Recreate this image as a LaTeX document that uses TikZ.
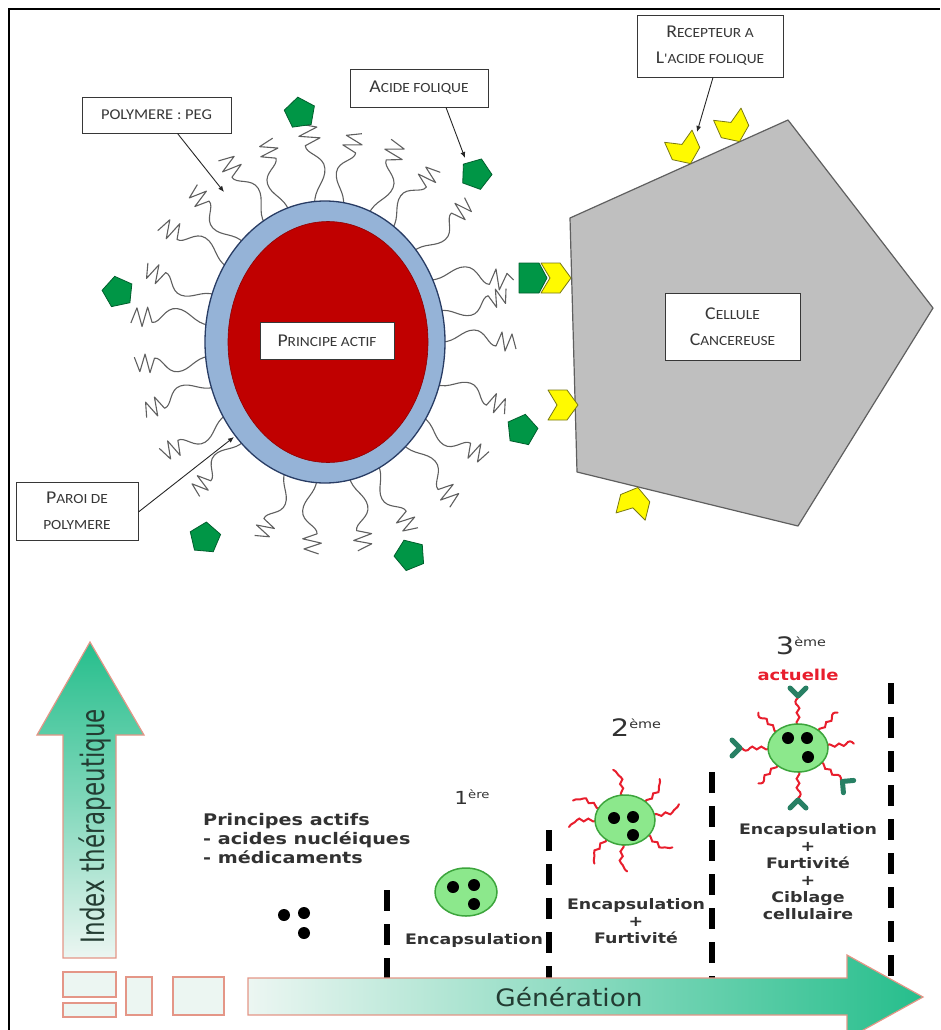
\documentclass[tikz,border=0pt]{standalone}
\usepackage{graphicx}
\usepackage{fontspec}
\setmainfont{DejaVu Sans}
\newfontfamily\labelfont{Carlito}[FakeStretch=1.1]
\newfontfamily\genfont{DejaVu Sans}[FakeStretch=1.2]
\newfontfamily\axisfont{DejaVu Sans}[FakeStretch=1.1]
\usetikzlibrary{arrows.meta,shapes.geometric,calc}

% small-caps look: larger initial, smaller capitals
\newcommand\capsc[2]{{\fontsize{18}{20}\selectfont #1}{\fontsize{14}{16}\selectfont #2}}

\definecolor{cellgray}{RGB}{191,191,191}
\definecolor{celledge}{RGB}{95,95,95}
\definecolor{shellblue}{RGB}{149,179,215}
\definecolor{shelledge}{RGB}{40,60,100}
\definecolor{corered}{RGB}{192,0,0}
\definecolor{folgreen}{RGB}{0,150,70}
\definecolor{folgreenedge}{RGB}{0,95,45}
\definecolor{recyellow}{RGB}{255,250,0}
\definecolor{recedge}{RGB}{120,120,20}
\definecolor{peggray}{RGB}{95,95,95}
\definecolor{labelink}{RGB}{55,55,55}
\definecolor{arrowgreen}{RGB}{38,190,140}
\definecolor{arrowpale}{RGB}{236,246,242}
\definecolor{salmon}{RGB}{228,150,135}
\definecolor{npgreen}{RGB}{140,232,140}
\definecolor{npedge}{RGB}{60,165,60}
\definecolor{pegred}{RGB}{232,30,45}
\definecolor{abteal}{RGB}{40,128,100}
\definecolor{textdark}{RGB}{50,50,50}
\definecolor{idxtext}{RGB}{35,60,50}

\begin{document}
\begin{tikzpicture}[x=1pt,y=-1pt,
  peg/.style={draw=peggray, line width=1.1pt, line join=round},
  lbl/.style={draw=labelink, fill=white, line width=0.9pt, inner sep=1pt,
    align=center, text=labelink, font=\labelfont\fontsize{14}{26}\selectfont},
  leader/.style={draw=black!85, line width=0.9pt, -{Latex[length=6pt,width=5pt]}},
  rec/.style={fill=recyellow, draw=recedge, line width=0.8pt, line join=round},
  folate/.style={regular polygon, regular polygon sides=5, fill=folgreen,
    draw=folgreenedge, line width=0.8pt, minimum size=32pt, inner sep=0pt},
  smallbox/.style={draw=salmon, fill=arrowpale, line width=1.2pt, inner sep=0pt},
  sep/.style={line width=5.5pt, dash pattern=on 21pt off 13pt},
  np/.style={ellipse, fill=npgreen, draw=npedge, line width=1.5pt, inner sep=0pt},
  redpeg/.style={draw=pegred, line width=2pt, line cap=round},
  ab/.style={draw=abteal, line width=5pt, line cap=round, line join=round},
  gentext/.style={font=\genfont\bfseries\fontsize{14.5}{17}\selectfont, text=textdark, align=center, inner sep=0pt},
  ordinal/.style={font=\genfont, text=textdark, inner sep=0pt},
]
\useasboundingbox (0,0) rectangle (940,1030);
\clip (0,0) rectangle (940,1030);

% frame
\draw[line width=2.5pt] (9,1030) -- (9,9) -- (940,9);

% ---------------- cancer cell ----------------
\coordinate (c1) at (570,218);
\coordinate (c2) at (788,120);
\coordinate (c3) at (933,308);
\coordinate (c4) at (798,526);
\coordinate (c5) at (577,472);
\draw[fill=cellgray, draw=celledge, line width=1.2pt, line join=round]
  (c1) -- (c2) -- (c3) -- (c4) -- (c5) -- cycle;

% ---------------- PEG chains ----------------
\foreach \t/\f/\s in {0/1/1.0, 13/-1/0.95, 41/-1/1.0, 55/1/1.0, 68/-1/1.05,
    81/1/1.0, 95/-1/1.1, 108/1/1.0, 121/-1/1.05, 134/1/1.0, 147/-1/1.05,
    160/1/1.0, 173/-1/1.05, 186/1/1.0, 199/-1/1.0, 212/1/1.0, 226/-1/0.95,
    250/1/0.95, 266/-1/1.0, 282/1/1.0, 297/-1/1.0, 312/1/1.05, 327/-1/1.0,
    342/1/1.0}
{
  \draw[peg, shift={({325+117*cos(\t)},{342-138*sin(\t)})}, rotate=\t, yscale=\f, scale=\s]
    (0,0) .. controls (14,0) and (20,-12) .. (32,-12)
          .. controls (44,-12) and (46,4) .. (54,4)
          -- (60,-10) -- (63,9) -- (70,-8) -- (74,7);
}
% chain carrying the bound ligand
\draw[peg, shift={(430,280)}, scale=1.1]
  (0,0) .. controls (14,0) and (20,-12) .. (32,-12)
        .. controls (44,-12) and (46,4) .. (54,4)
        -- (60,-10) -- (63,9) -- (70,-6) -- (76,0);

% ---------------- nanoparticle ----------------
\node[ellipse, fill=shellblue, draw=shelledge, line width=1.3pt, minimum width=240pt,
  minimum height=282pt, inner sep=0pt] (shell) at (325,342) {};
\node[ellipse, fill=corered, draw=corered!75!black, line width=0.6pt, minimum width=200pt,
  minimum height=241pt, inner sep=0pt] (core) at (328,342) {};

% ---------------- folic acid ----------------
\node[folate, rotate=8] (f1) at (300,113) {};
\node[folate, rotate=-20] (f2) at (476,174) {};
\node[folate, rotate=12] (f3) at (118,292) {};
\node[folate, rotate=-12] (f4) at (522,430) {};
\node[folate, rotate=-5] (f5) at (205,538) {};
\node[folate, rotate=22] (f6) at (410,555) {};
\draw[fill=folgreen, draw=folgreenedge, line width=0.8pt, line join=round, shift={(533,278)}]
  (-14,-15) -- (6,-15) -- (14,0) -- (6,15) -- (-14,15) -- cycle;

% ---------------- folate receptors ----------------
\foreach \x/\y/\r in {555/278/0, 562/405/0, 684/149/-66, 733/127/-66, 634/503/76}
{
  \draw[rec, shift={(\x,\y)}, rotate=\r]
    (-14,-15) -- (5,-15) -- (16,0) -- (5,15) -- (-14,15) -- (-5,0) -- cycle;
}

% ---------------- labels ----------------
\node[lbl, minimum width=149pt, minimum height=36pt, font=\labelfont\fontsize{15}{17}\selectfont]
  (lpeg) at (156.5,115) {POLYMERE : PEG};
\node[lbl, minimum width=138pt, minimum height=38pt] (lacid) at (419,88) {\capsc{A}{CIDE FOLIQUE}};
\node[lbl, minimum width=146pt, minimum height=62pt] (lrec) at (710,46)
  {\capsc{R}{ECEPTEUR A}\\\capsc{L}{'ACIDE FOLIQUE}};
\node[lbl, minimum width=135pt, minimum height=67pt] (lcell) at (732.5,326.5)
  {\capsc{C}{ELLULE}\\\capsc{C}{ANCEREUSE}};
\node[lbl, minimum width=122pt, minimum height=58pt] (lwall) at (77,511)
  {\capsc{P}{AROI DE}\\POLYMERE};
\node[lbl, minimum width=134pt, minimum height=37pt] (lcore) at (327,340.5) {\capsc{P}{RINCIPE ACTIF}};

\coordinate (tpeg) at (224,192);
\coordinate (tacid) at (465,158);
\coordinate (trec) at (697,132);
\coordinate (twall) at (234,437);
\draw[leader] ([xshift=21pt]lpeg.south) -- (tpeg);
\draw[leader] ([xshift=27pt]lacid.south) -- (tacid);
\draw[leader] ([xshift=3pt]lrec.south) -- (trec);
\draw[leader] ([yshift=-1pt]lwall.east) -- (twall);

% ---------------- lower panel: generations ----------------
% separators
\coordinate (s1a) at (387,890); \coordinate (s1b) at (387,978);
\coordinate (s2a) at (549,830); \coordinate (s2b) at (549,978);
\coordinate (s3a) at (712,772); \coordinate (s3b) at (712,978);
\coordinate (s4a) at (891,683); \coordinate (s4b) at (891,976);
\draw[sep] (s1a) -- (s1b);
\draw[sep] (s2a) -- (s2b);
\draw[sep] (s3a) -- (s3b);
\draw[sep] (s4a) -- (s4b);

% axes
\path[draw=salmon, line width=1.2pt, top color=arrowgreen, bottom color=arrowpale, middle color=arrowgreen!55!arrowpale]
  (63,958) -- (63,735) -- (37,735) -- (90,642) -- (144,735) -- (116,735) -- (116,958) -- cycle;
\node[rotate=90, font=\fontsize{23}{25}\selectfont, text=idxtext, inner sep=0pt] (idx) at (95,826)
  {\scalebox{1}[1.4]{Index thérapeutique}};

\path[draw=salmon, line width=1.2pt, left color=arrowpale, right color=arrowgreen]
  (248,978) -- (847,978) -- (847,955) -- (923,997) -- (847,1039) -- (847,1015) -- (248,1015) -- cycle;
\node[font=\axisfont\fontsize{24}{26}\selectfont, text=idxtext, inner sep=0pt] (gen) at (569,997) {Génération};

\node[smallbox, minimum width=53pt, minimum height=25pt] (b1) at (89.5,984.5) {};
\node[smallbox, minimum width=53pt, minimum height=14pt] (b2) at (89.5,1010) {};
\node[smallbox, minimum width=26pt, minimum height=38pt] (b3) at (139,996) {};
\node[smallbox, minimum width=51pt, minimum height=38pt] (b4) at (198.5,996) {};

% free active principles
\node[gentext, align=left, anchor=north west, font=\genfont\bfseries\fontsize{16}{19}\selectfont]
  (free) at (203,813) {Principes actifs\\- acides nucléiques\\- médicaments};
\fill (284,915) circle (6pt);
\fill (304,913) circle (6pt);
\fill (304,933) circle (6pt);

% 1st generation
\node[ordinal] (g1) at (472,797) {\fontsize{18}{20}\selectfont 1\raisebox{6pt}{\fontsize{11}{11}\selectfont ère}};
\node[np, minimum width=62pt, minimum height=48pt] (np1) at (466,892) {};
\foreach \x/\y in {453/887, 474/885, 474/904} \fill (\x,\y) circle (6pt);
\node[gentext] (t1) at (474,940) {Encapsulation};

% 2nd generation
\node[ordinal] (g2) at (636,728) {\fontsize{24}{26}\selectfont 2\raisebox{8pt}{\fontsize{12}{12}\selectfont ème}};
\foreach \a in {10,45,95,150,180,230,265,320}
  \draw[redpeg, shift={({625+29*cos(\a)},{820-24*sin(\a)})}, rotate=\a]
    (0,0) .. controls (4,-5) and (7,5) .. (10,0) .. controls (13,-5) and (16,5) .. (19,0)
    .. controls (22,-4) and (25,-3) .. (27,-7);
\node[np, minimum width=60pt, minimum height=50pt] (np2) at (625,820) {};
\foreach \x/\y in {614/818, 633/817, 633/835} \fill (\x,\y) circle (6pt);
\node[gentext] (t2) at (636,921) {Encapsulation\\+\\Furtivité};

% 3rd generation
\node[ordinal] (g3) at (801,646) {\fontsize{24}{26}\selectfont 3\raisebox{8pt}{\fontsize{12}{12}\selectfont ème}};
\node[gentext, text=pegred, font=\genfont\bfseries\fontsize{15}{17}\selectfont] (now) at (798,675) {actuelle};
\foreach \a in {90,45,5,-40,-90,-135,180,135}
  \draw[redpeg, shift={({798+29*cos(\a)},{748-23*sin(\a)})}, rotate=\a]
    (0,0) .. controls (4,-5) and (7,5) .. (10,0) .. controls (13,-5) and (16,5) .. (19,0)
    .. controls (22,-4) and (25,-3) .. (27,0);
\foreach \a in {90,-40,-90,180}
  \draw[ab, shift={({798+29*cos(\a)},{748-23*sin(\a)})}, rotate=\a]
    (37,-8) -- (29,0) -- (37,8);
\node[np, minimum width=60pt, minimum height=48pt] (np3) at (798,748) {};
\foreach \x/\y in {788/738, 807/738, 808/757} \fill (\x,\y) circle (6pt);
\node[gentext] (t3) at (808,872) {Encapsulation\\+\\Furtivité\\+\\Ciblage\\cellulaire};

\end{tikzpicture}
\end{document}
